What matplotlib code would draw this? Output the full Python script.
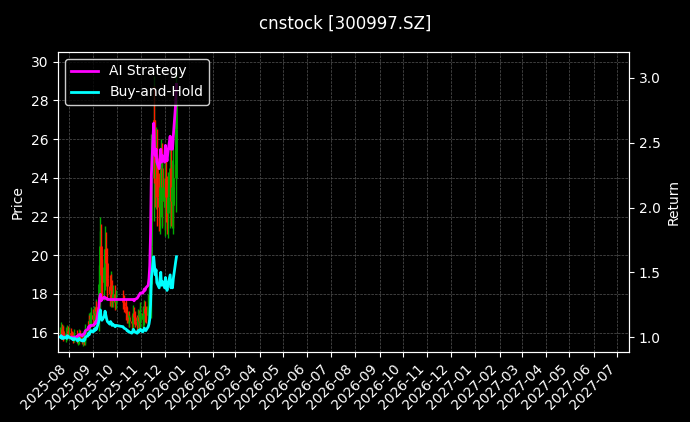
import matplotlib
matplotlib.use("Agg")
import matplotlib.pyplot as plt
import matplotlib.dates as mdates
import pandas as pd
import numpy as np

all_days = pd.bdate_range("2025-07-21", "2025-12-16")
dates = all_days[(all_days < "2025-10-01") | (all_days > "2025-10-08")]

close = [16.0,16.2,15.9,16.1,15.8,16.0,15.9,16.1,16.0,
         16.0,15.9,15.8,15.7,15.8,15.9,15.7,15.6,15.7,15.9,15.8,15.6,15.8,15.6,15.8,16.1,16.3,16.6,16.4,16.7,16.9,
         16.7,17.0,16.9,17.3,17.1,18.5,20.0,20.5,19.0,18.6,19.4,20.3,19.6,18.8,18.4,18.0,18.5,18.2,17.8,18.0,17.6,17.8,
         17.6,17.4,17.0,16.8,16.8,16.6,16.6,16.5,16.6,17.0,16.8,16.6,16.4,16.8,16.6,16.9,17.0,
         16.7,16.9,17.2,17.0,16.9,17.4,17.8,18.5,20.5,24.0,27.0,25.5,24.0,25.0,23.0,22.5,23.5,24.5,22.8,23.5,
         22.5,24.0,23.0,22.2,23.0,24.5,22.8,23.5,22.6,24.0,26.5,28.0]
spread = [0.6,0.7,0.5,0.6,0.5,0.6,0.5,0.6,0.5,
          0.6,0.5,0.4,0.5,0.4,0.6,0.5,0.4,0.5,0.6,0.5,0.4,0.6,0.5,0.5,0.7,0.6,0.8,0.6,0.7,0.8,
          0.6,0.8,0.6,0.9,0.7,2.0,2.5,3.0,2.2,1.6,1.8,2.4,1.8,1.5,1.3,1.2,1.4,1.1,1.0,0.9,0.9,0.8,
          0.8,0.7,0.7,0.6,0.6,0.6,0.6,0.6,0.7,0.9,0.7,0.6,0.6,0.8,0.7,0.9,1.2,
          0.8,0.9,1.0,0.9,0.8,1.2,1.5,2.0,3.5,4.5,4.5,3.5,3.0,3.2,3.0,2.5,2.8,3.0,2.6,2.8,
          2.4,3.0,2.6,2.2,2.6,3.2,2.6,2.8,2.4,3.0,3.5,3.5]
bh = [1.00,1.01,0.99,1.00,0.99,1.00,0.99,1.01,1.00,
      1.00,0.99,0.99,0.98,0.98,0.99,0.98,0.97,0.98,0.99,0.98,0.97,0.98,0.97,0.98,1.00,1.01,1.03,1.02,1.04,1.05,
      1.04,1.06,1.05,1.07,1.06,1.12,1.18,1.21,1.15,1.13,1.16,1.20,1.17,1.14,1.12,1.10,1.12,1.11,1.09,1.10,1.08,1.09,
      1.08,1.07,1.06,1.05,1.05,1.04,1.04,1.03,1.04,1.06,1.05,1.04,1.03,1.05,1.04,1.05,1.06,
      1.04,1.05,1.07,1.06,1.05,1.08,1.10,1.14,1.25,1.45,1.62,1.55,1.48,1.52,1.42,1.38,1.45,1.50,1.40,1.43,
      1.38,1.46,1.40,1.36,1.40,1.48,1.38,1.42,1.38,1.45,1.58,1.62]
strat = [1.00,1.01,1.00,1.00,1.00,1.00,1.00,1.01,1.00,
         1.00,1.00,1.00,0.99,1.00,1.00,1.00,1.01,1.01,1.02,1.02,1.01,1.02,1.02,1.03,1.05,1.06,1.08,1.07,1.09,1.09,
         1.09,1.10,1.10,1.12,1.11,1.22,1.30,1.33,1.28,1.29,1.31,1.30,1.30,1.30,1.29,1.29,1.29,1.29,1.29,1.29,1.29,1.29,
         1.29,1.29,1.29,1.29,1.29,1.29,1.29,1.29,1.29,1.29,1.28,1.29,1.30,1.31,1.32,1.33,1.34,
         1.34,1.35,1.37,1.36,1.38,1.40,1.45,1.55,1.80,2.25,2.65,2.45,2.40,2.45,2.35,2.30,2.38,2.45,2.35,2.40,
         2.35,2.48,2.40,2.36,2.42,2.55,2.45,2.50,2.45,2.55,2.80,2.95]

plt.rcParams['font.family'] = ['DejaVu Sans']
fig = plt.figure(figsize=(6.9, 4.22), dpi=100, facecolor='black')
ax = fig.add_axes([58/690, 70/422, 571/690, 300/422], facecolor='black')
opens = [close[0]] + close[:-1]
for d, o, c, s in zip(dates, opens, close, spread):
    col = '#00aa00' if c >= o else '#ff1a00'
    hi = max(o, c) + s / 2
    lo = min(o, c) - s / 2
    ax.vlines(d, lo, hi, color=col, linewidth=1.0)
    ax.vlines(d, min(o, c), max(o, c), color=col, linewidth=2.0)
ax.set_ylim(15, 30.5)
ax.set_xlim(pd.Timestamp("2025-07-18"), pd.Timestamp("2027-07-16"))
ax.set_ylabel("Price", color='white')
ax.grid(True, color='#555555', linestyle='--', linewidth=0.5)
ax.xaxis.set_major_locator(mdates.MonthLocator())
ax.xaxis.set_major_formatter(mdates.DateFormatter("%Y-%m"))
for lbl in ax.get_xticklabels():
    lbl.set_rotation(45); lbl.set_ha('right')
ax2 = ax.twinx()
l1, = ax2.plot(dates, strat, color='#ff00ff', linewidth=2, label='AI Strategy')
l2, = ax2.plot(dates, bh, color='#00ffff', linewidth=2, label='Buy-and-Hold')
ax2.set_ylim(0.885, 3.2)
ax2.set_ylabel("Return", color='white')
for a in (ax, ax2):
    a.tick_params(colors='white')
    for sp in a.spines.values():
        sp.set_color('white')
leg = ax2.legend(handles=[l1, l2], loc='upper left', facecolor='black', edgecolor='white', labelcolor='white')
fig.suptitle("cnstock [300997.SZ]", color='white', y=0.965)
fig.savefig("out.png", facecolor='black')
